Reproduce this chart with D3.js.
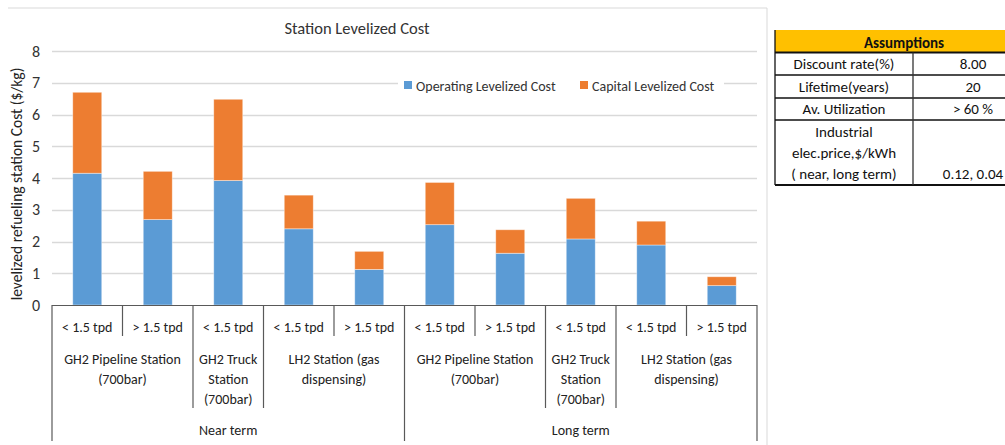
<!DOCTYPE html>
<html>
<head>
<meta charset="utf-8">
<script src="https://cdn.jsdelivr.net/npm/d3@7"></script>
<style>
  html, body { margin: 0; padding: 0; background: #fff; }
  svg text { font-family: Carlito, Lato, "Noto Sans", sans-serif; }
</style>
</head>
<body>
<svg id="chart" width="1005" height="445"></svg>
<script>
// Station categories (capacity, station type, time horizon)
const capacities = ["< 1.5 tpd", "> 1.5 tpd", "< 1.5 tpd", "< 1.5 tpd", "> 1.5 tpd",
                    "< 1.5 tpd", "> 1.5 tpd", "< 1.5 tpd", "< 1.5 tpd", "> 1.5 tpd"];
const stationTypes = [
  { name: ["GH2 Pipeline Station", "(700bar)"], from: 0, to: 2 },
  { name: ["GH2 Truck", "Station", "(700bar)"], from: 2, to: 3 },
  { name: ["LH2 Station (gas", "dispensing)"], from: 3, to: 5 },
  { name: ["GH2 Pipeline Station", "(700bar)"], from: 5, to: 7 },
  { name: ["GH2 Truck", "Station", "(700bar)"], from: 7, to: 8 },
  { name: ["LH2 Station (gas", "dispensing)"], from: 8, to: 10 }
];
const terms = [
  { name: "Near term", from: 0, to: 5 },
  { name: "Long term", from: 5, to: 10 }
];

// Levelized cost components ($/kg)
const operatingCost = [4.15, 2.69, 3.92, 2.40, 1.12, 2.53, 1.63, 2.08, 1.89, 0.61];
const capitalCost   = [2.55, 1.52, 2.56, 1.06, 0.57, 1.33, 0.74, 1.28, 0.75, 0.28];

const seriesNames = ["Operating Levelized Cost", "Capital Levelized Cost"];
const seriesColors = ["#5B9BD5", "#ED7D31"];
const yTicks = [0, 1, 2, 3, 4, 5, 6, 7, 8];

// Assumptions table
const assumptionLabels = [["Discount rate(%)"], ["Lifetime(years)"], ["Av. Utilization"],
                          ["Industrial", "elec.price,$/kWh", "( near, long term)"]];
const assumptionValues = ["8.00", "20", "> 60 %", "0.12, 0.04"];

const svg = d3.select("#chart");
const plot = { left: 52, right: 757, top: 51, bottom: 305 };
const idx = d3.range(capacities.length);

const p = 1 - 29 / 70.5;
const x = d3.scaleBand().domain(idx).range([plot.left, plot.right])
  .paddingInner(p).paddingOuter(p / 2);
const step = x.step();
const edge = i => plot.left + i * step;
const y = d3.scaleLinear().domain([0, 8]).range([plot.bottom, plot.top]);

// chart frame
svg.append("line").attr("x1", 8).attr("x2", 767).attr("y1", 8).attr("y2", 8)
  .attr("stroke", "#d9d9d9").attr("stroke-width", 1);
svg.append("line").attr("x1", 767).attr("x2", 767).attr("y1", 8).attr("y2", 445)
  .attr("stroke", "#d9d9d9").attr("stroke-width", 1);

// title
svg.append("text").attr("x", 357).attr("y", 34).attr("text-anchor", "middle")
  .attr("font-size", 16.5).attr("fill", "#333").text("Station Levelized Cost");

// gridlines
svg.append("g").selectAll("line").data(yTicks.filter(d => d > 0)).join("line")
  .attr("x1", plot.left).attr("x2", plot.right)
  .attr("y1", d => Math.round(y(d)) + 0.5).attr("y2", d => Math.round(y(d)) + 0.5)
  .attr("stroke", "#d9d9d9").attr("stroke-width", 1.3);

// y axis labels
const yAxis = d3.axisLeft(y).tickValues(yTicks).tickSize(0).tickPadding(0).tickFormat(d3.format("d"));
const gy = svg.append("g").attr("transform", `translate(${plot.left - 12},0)`).call(yAxis);
gy.select(".domain").remove();
gy.selectAll("text").attr("font-size", 16).attr("fill", "#333")
  .style("font-family", "Carlito, Lato, 'Noto Sans', sans-serif");

svg.append("text").attr("transform", `translate(22,${(plot.top + plot.bottom) / 2 + 6}) rotate(-90)`)
  .attr("text-anchor", "middle").attr("font-size", 15.5).attr("fill", "#222")
  .text("levelized refueling station Cost ($/kg)");

// stacked bars
const stackData = idx.map(i => ({ i, op: operatingCost[i], cap: capitalCost[i] }));
const stacked = d3.stack().keys(["op", "cap"])(stackData);
svg.append("g").selectAll("g").data(stacked).join("g")
  .attr("fill", (d, k) => seriesColors[k])
  .selectAll("rect").data(d => d).join("rect")
  .attr("x", d => x(d.data.i)).attr("width", x.bandwidth())
  .attr("y", d => y(d[1])).attr("height", d => y(d[0]) - y(d[1]))
  .attr("stroke", "rgba(255,255,255,0.5)").attr("stroke-width", 0.8);

// category axis (three levels)
const axisColor = "#595959";
const ax = svg.append("g");
ax.append("line").attr("x1", plot.left).attr("x2", plot.right)
  .attr("y1", plot.bottom + 0.5).attr("y2", plot.bottom + 0.5)
  .attr("stroke", axisColor).attr("stroke-width", 1.2);

const groupEdges = new Set(stationTypes.map(s => s.from).concat(stationTypes.map(s => s.to)));
const termEdges = new Set(terms.map(t => t.from).concat(terms.map(t => t.to)));
d3.range(capacities.length + 1).forEach(i => {
  let y2 = 336;
  if (groupEdges.has(i)) y2 = 408;
  if (termEdges.has(i)) y2 = 441;
  ax.append("line").attr("x1", edge(i)).attr("x2", edge(i))
    .attr("y1", plot.bottom).attr("y2", y2)
    .attr("stroke", axisColor).attr("stroke-width", 1.2);
});

ax.selectAll(".cap").data(idx).join("text").attr("class", "cap")
  .attr("x", i => x(i) + x.bandwidth() / 2).attr("y", 332)
  .attr("text-anchor", "middle").attr("font-size", 14).attr("fill", "#222")
  .text(i => capacities[i]);

stationTypes.forEach(s => {
  const cx = (edge(s.from) + edge(s.to)) / 2;
  const t = ax.append("text").attr("text-anchor", "middle").attr("font-size", 14).attr("fill", "#222");
  s.name.forEach((line, k) => {
    t.append("tspan").attr("x", cx).attr("y", 364 + k * 20).text(line);
  });
});

terms.forEach(tm => {
  ax.append("text").attr("x", (edge(tm.from) + edge(tm.to)) / 2).attr("y", 435)
    .attr("text-anchor", "middle").attr("font-size", 14).attr("fill", "#222").text(tm.name);
});

// legend
const legend = svg.append("g");
legend.append("rect").attr("x", 398).attr("y", 74).attr("width", 326).attr("height", 22).attr("fill", "#fff");
const legendX = [404, 580];
seriesNames.forEach((name, k) => {
  legend.append("rect").attr("x", legendX[k]).attr("y", 81).attr("width", 8).attr("height", 8)
    .attr("fill", seriesColors[k]);
  legend.append("text").attr("x", legendX[k] + 12).attr("y", 90.5)
    .attr("font-size", 14).attr("fill", "#333").text(name);
});

// assumptions table
const tbl = svg.append("g");
const tx0 = 775, tx1 = 913, tx2 = 1040;
const rowEdges = [30, 52.5, 75, 98, 120, 185];
tbl.append("rect").attr("x", tx0).attr("y", rowEdges[0]).attr("width", tx2 - tx0)
  .attr("height", rowEdges[1] - rowEdges[0]).attr("fill", "#FFC000");
tbl.append("text").attr("x", 904).attr("y", 47.5).attr("text-anchor", "middle")
  .attr("font-size", 15).attr("font-weight", "bold").attr("fill", "#111").text("Assumptions");

rowEdges.slice(1).forEach((ry, k) => {
  tbl.append("line").attr("x1", tx0).attr("x2", tx2).attr("y1", ry).attr("y2", ry)
    .attr("stroke", "#111").attr("stroke-width", k === 0 || k === 4 ? 2 : 1.3);
});
tbl.append("line").attr("x1", tx0).attr("x2", tx0).attr("y1", rowEdges[0]).attr("y2", rowEdges[5])
  .attr("stroke", "#111").attr("stroke-width", 1.3);
tbl.append("line").attr("x1", tx1).attr("x2", tx1).attr("y1", rowEdges[1]).attr("y2", rowEdges[5])
  .attr("stroke", "#333").attr("stroke-width", 1.3);

assumptionLabels.forEach((lines, r) => {
  const yBot = rowEdges[r + 2];
  const t = tbl.append("text").attr("text-anchor", "middle").attr("font-size", 15).attr("fill", "#111");
  lines.forEach((line, k) => {
    t.append("tspan").attr("x", (tx0 + tx1) / 2)
      .attr("y", yBot - 6 - (lines.length - 1 - k) * 21).text(line);
  });
  tbl.append("text").attr("x", 973).attr("y", yBot - 6).attr("text-anchor", "middle")
    .attr("font-size", 15).attr("fill", "#111").text(assumptionValues[r]);
});
</script>
</body>
</html>
